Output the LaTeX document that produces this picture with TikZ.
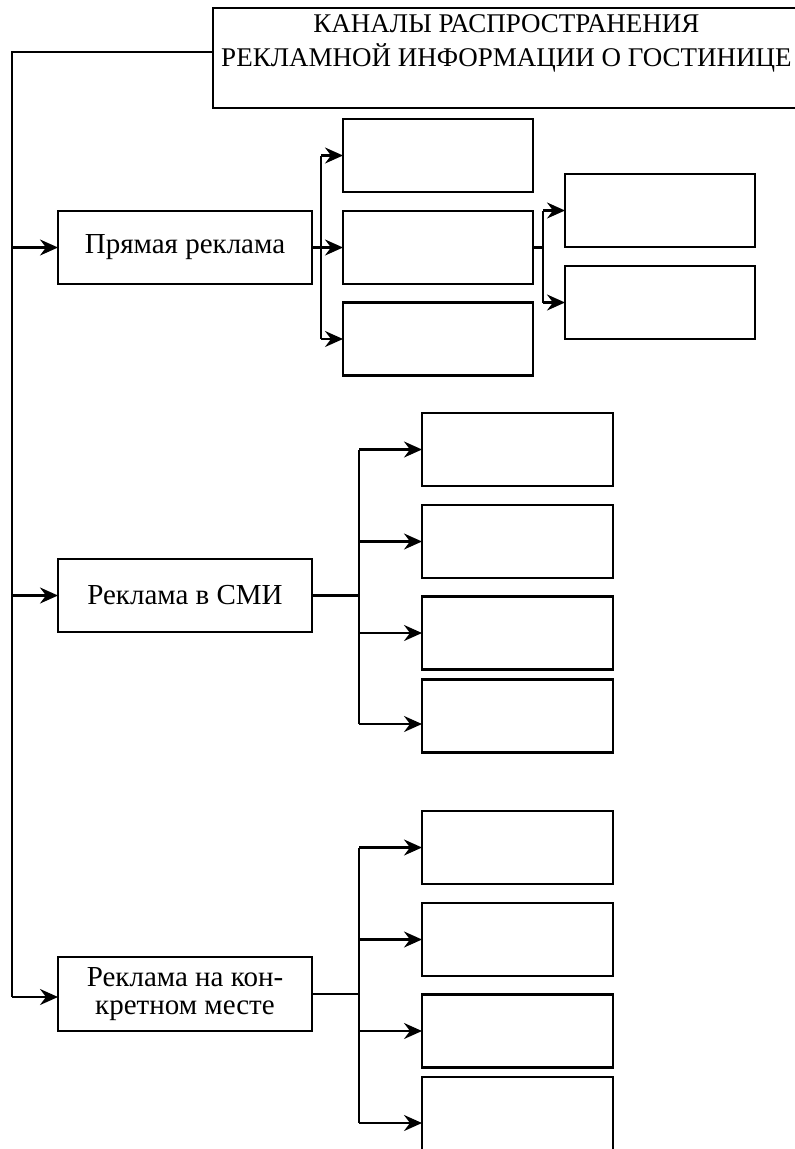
\documentclass[tikz,border=0pt]{standalone}
\usepackage{fontspec}
\setmainfont{Liberation Serif}
\usepackage{tikz}
\usetikzlibrary{positioning,arrows.meta,calc}
\tikzset{
  every node/.style={font=\fontsize{29}{33}\selectfont},
  % --- nodes
  blk/.style   = {draw=black, line width=2.2pt, outer sep=0pt, inner sep=4pt,
                  align=center, minimum height=73pt},
  mainblk/.style = {blk, minimum width=254pt},
  subblk/.style  = {blk, minimum width=190pt},
  % --- edges
  ln/.style    = {draw=black, line width=2.2pt},
  e/.style     = {ln, -{Stealth[length=18pt,width=16pt,inset=6pt]}},
}
\begin{document}
\begin{tikzpicture}[x=1pt,y=-1pt]
  \clip (0,0) rectangle (795,1149);

  % title
  \node[blk, minimum width=587pt, minimum height=100pt,
        font=\fontsize{27}{34}\selectfont] (title) at (506.5,58)
    {КАНАЛЫ РАСПРОСТРАНЕНИЯ\\РЕКЛАМНОЙ ИНФОРМАЦИИ О ГОСТИНИЦЕ\\[-10pt]\strut};

  % first level
  \node[mainblk] (pr)  at (185,247.5) {Прямая реклама};
  \node[mainblk] (smi) at (185,595.5) {Реклама в СМИ};
  \node[mainblk, minimum height=74pt,
        font=\fontsize{29}{28}\selectfont] (mst) at (185,994)
    {Реклама на кон-\\кретном месте};

  % trunk
  \coordinate (ttop) at (12,52);
  \coordinate (tbot) at (12,997);
  \draw[ln] ([yshift=6pt]title.west) -- (ttop) -- (tbot);
  \draw[e] (ttop |- pr.west)  -- (pr.west);
  \draw[e] (ttop |- smi.west) -- (smi.west);
  \draw[e] (tbot) -- (tbot -| mst.west);

  % direct advertising
  \node[subblk] (pr1) at (438,155.5) {};
  \node[subblk] (pr2) at (438,247.5) {};
  \node[subblk] (pr3) at (438,339)   {};
  \node[subblk] (pr21) at (660,210.5) {};
  \node[subblk] (pr22) at (660,302.5) {};
  \coordinate (prj) at (321,247.5);
  \draw[ln] (pr.east) -- (prj);
  \draw[e] (prj |- pr1.west) -- (pr1.west);
  \draw[e] (prj) -- (pr2.west);
  \draw[e] (prj |- pr3.west) -- (pr3.west);
  \draw[ln] (prj |- pr1.west) -- (prj |- pr3.west);
  \coordinate (pr2j) at (543,247.5);
  \draw[ln] (pr2.east) -- (pr2j);
  \draw[ln] (pr2j |- pr21.west) -- (pr2j |- pr22.west);
  \draw[e] (pr2j |- pr21.west) -- (pr21.west);
  \draw[e] (pr2j |- pr22.west) -- (pr22.west);

  % media
  \node[subblk, minimum width=191pt] (smi1) at (517.5,449.5) {};
  \node[subblk, minimum width=191pt] (smi2) at (517.5,541.5) {};
  \node[subblk, minimum width=191pt] (smi3) at (517.5,633)   {};
  \node[subblk, minimum width=191pt] (smi4) at (517.5,716)   {};
  \coordinate (smij) at (359,595.5);
  \draw[ln] (smi.east) -- (smij);
  \draw[ln] (smij |- smi1.west) -- ([yshift=-8pt]smij |- smi4.west);
  \draw[e] (smij |- smi1.west) -- (smi1.west);
  \draw[e] (smij |- smi2.west) -- (smi2.west);
  \draw[e] (smij |- smi3.west) -- (smi3.west);
  \draw[e] ([yshift=-8pt]smij |- smi4.west) -- ([yshift=-8pt]smi4.west);

  % point of sale
  \node[subblk, minimum width=191pt] (mst1) at (517.5,847.5)  {};
  \node[subblk, minimum width=191pt] (mst2) at (517.5,939.5)  {};
  \node[subblk, minimum width=191pt] (mst3) at (517.5,1031)   {};
  \node[subblk, minimum width=191pt] (mst4) at (517.5,1113.5) {};
  \coordinate (mstj) at (359,994);
  \draw[ln] (mst.east) -- (mstj);
  \draw[ln] (mstj |- mst1.west) -- ([yshift=-9.5pt]mstj |- mst4.west);
  \draw[e] (mstj |- mst1.west) -- (mst1.west);
  \draw[e] (mstj |- mst2.west) -- (mst2.west);
  \draw[e] (mstj |- mst3.west) -- (mst3.west);
  \draw[e] ([yshift=-9.5pt]mstj |- mst4.west) -- ([yshift=-9.5pt]mst4.west);
\end{tikzpicture}
\end{document}
